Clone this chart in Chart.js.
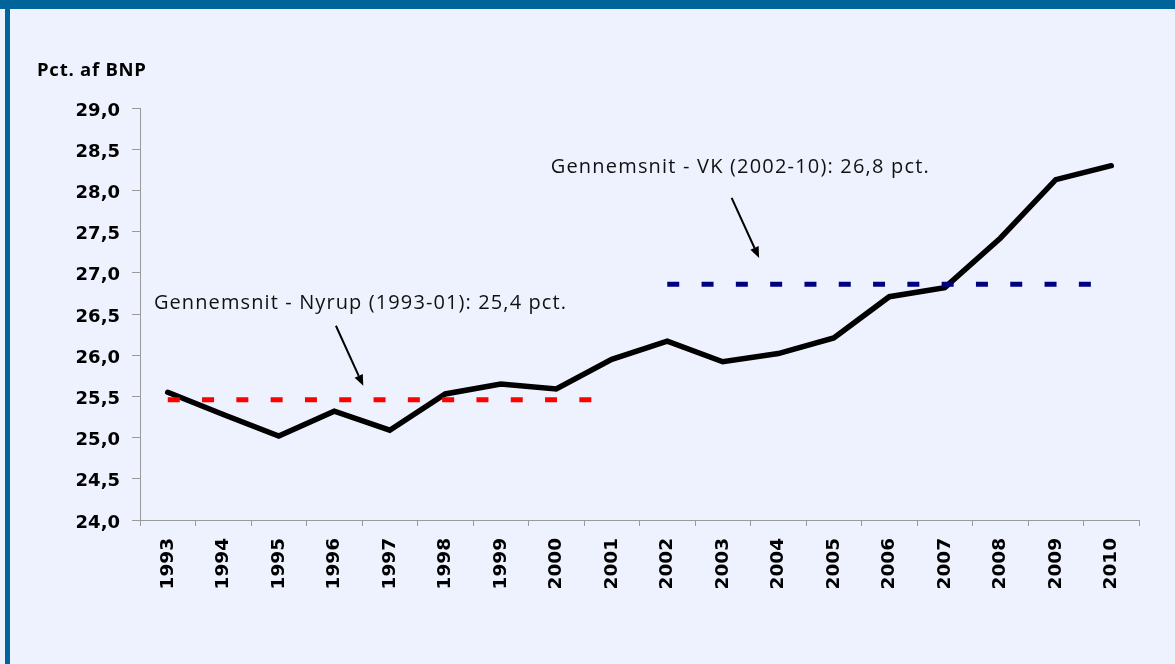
<!DOCTYPE html>
<html>
<head>
<meta charset="utf-8">
<script src="https://cdn.jsdelivr.net/npm/chart.js@4.4.1/dist/chart.umd.min.js"></script>
<style>
  html, body { margin: 0; padding: 0; background: #EEF2FE; }
  #wrap { position: relative; width: 1175px; height: 664px; overflow: hidden; background: #EEF2FE; }
  #topbar { position: absolute; left: 0; top: 0; width: 1175px; height: 9px; background: #00649A; }
  #leftbar { position: absolute; left: 5px; top: 0; width: 5px; height: 664px; background: #00649A; }
  canvas { position: absolute; left: 0; top: 0; }
</style>
</head>
<body>
<div id="wrap">
  <div id="topbar"></div>
  <div id="leftbar"></div>
  <canvas id="c" width="1175" height="664"></canvas>
</div>
<script>
// ---- Data ----
const years = ['1993','1994','1995','1996','1997','1998','1999','2000','2001',
               '2002','2003','2004','2005','2006','2007','2008','2009','2010'];
const taxShare = [25.55, 25.28, 25.02, 25.32, 25.09, 25.53, 25.65, 25.59, 25.95,
                  26.17, 25.92, 26.02, 26.21, 26.71, 26.82, 27.42, 28.13, 28.30];
const nyrupAverage = [25.46, 25.46, 25.46, 25.46, 25.46, 25.46, 25.46, 25.46, 25.46,
                      null, null, null, null, null, null, null, null, null];
const vkAverage = [null, null, null, null, null, null, null, null, null,
                   26.86, 26.86, 26.86, 26.86, 26.86, 26.86, 26.86, 26.86, 26.86];
const yTickValues = [24.0, 24.5, 25.0, 25.5, 26.0, 26.5, 27.0, 27.5, 28.0, 28.5, 29.0];
const yAxisTitle = 'Pct. af BNP';
const annotationTexts = ['Gennemsnit - Nyrup (1993-01): 25,4 pct.',
                         'Gennemsnit - VK (2002-10): 26,8 pct.'];

// ---- helpers ----
function drawFittedText(ctx, text, x, y, font, targetWidth, color) {
  ctx.save();
  ctx.font = font;
  ctx.fillStyle = color;
  ctx.textAlign = 'left';
  ctx.textBaseline = 'alphabetic';
  const w = ctx.measureText(text).width;
  if ('letterSpacing' in ctx && text.length > 1) {
    const sp = (targetWidth - w) / (text.length - 1);
    ctx.letterSpacing = sp.toFixed(2) + 'px';
    ctx.fillText(text, x, y);
  } else {
    ctx.translate(x, y);
    ctx.scale(targetWidth / w, 1);
    ctx.fillText(text, 0, 0);
  }
  ctx.restore();
}
function drawArrow(ctx, x1, y1, x2, y2) {
  const ang = Math.atan2(y2 - y1, x2 - x1);
  const headLen = 11, headHalf = 4.5;
  const bx = x2 - headLen * Math.cos(ang), by = y2 - headLen * Math.sin(ang);
  ctx.save();
  ctx.strokeStyle = '#000';
  ctx.fillStyle = '#000';
  ctx.lineWidth = 2;
  ctx.beginPath();
  ctx.moveTo(x1, y1);
  ctx.lineTo(bx, by);
  ctx.stroke();
  ctx.beginPath();
  ctx.moveTo(x2, y2);
  ctx.lineTo(bx + headHalf * Math.sin(ang), by - headHalf * Math.cos(ang));
  ctx.lineTo(bx - headHalf * Math.sin(ang), by + headHalf * Math.cos(ang));
  ctx.closePath();
  ctx.fill();
  ctx.restore();
}

const annotationPlugin = {
  id: 'annotations',
  afterDraw(chart) {
    const ctx = chart.ctx;
    const xs = chart.scales.x, ys = chart.scales.y;
    const px = v => xs.getPixelForValue(v);
    const py = v => ys.getPixelForValue(v);
    // y axis title
    drawFittedText(ctx, yAxisTitle, 37, 76, 'bold 18.5px "Open Sans"', 109, '#000');
    // annotation texts
    drawFittedText(ctx, annotationTexts[0], px(-0.25), py(26.56), '20px "Open Sans"', 412, '#111');
    drawFittedText(ctx, annotationTexts[1], px(6.9), py(28.21), '20px "Open Sans"', 378, '#111');
    // arrows
    drawArrow(ctx, px(3.03), py(26.357), px(3.523), py(25.628));
    drawArrow(ctx, px(10.16), py(27.909), px(10.655), py(27.18));
  }
};

Chart.defaults.font.family = 'DejaVu Sans';
Chart.defaults.color = '#000';

new Chart(document.getElementById('c'), {
  type: 'line',
  data: {
    labels: years,
    datasets: [
      {
        label: 'Gennemsnit - Nyrup',
        data: nyrupAverage,
        borderColor: '#FF0000',
        borderWidth: 5,
        borderDash: [12, 22.3],
        borderCapStyle: 'butt',
        pointRadius: 0,
        fill: false,
        spanGaps: false
      },
      {
        label: 'Gennemsnit - VK',
        data: vkAverage,
        borderColor: '#000080',
        borderWidth: 5,
        borderDash: [12, 22.3],
        borderCapStyle: 'butt',
        pointRadius: 0,
        fill: false,
        spanGaps: false
      },
      {
        label: 'Skattetryk',
        data: taxShare,
        borderColor: '#000000',
        borderWidth: 5.5,
        borderCapStyle: 'round',
        borderJoinStyle: 'miter',
        pointRadius: 0,
        tension: 0,
        fill: false
      }
    ]
  },
  options: {
    responsive: false,
    animation: false,
    devicePixelRatio: 1,
    layout: { padding: { left: 10, top: 108, right: 36, bottom: 10 } },
    plugins: {
      legend: { display: false },
      tooltip: { enabled: false },
      title: { display: false }
    },
    scales: {
      x: {
        type: 'category',
        offset: true,
        grid: {
          offset: true,
          drawOnChartArea: false,
          drawTicks: true,
          tickLength: 6,
          color: '#9a9a9a',
          lineWidth: 1
        },
        border: { display: true, color: '#9a9a9a', width: 1 },
        ticks: {
          autoSkip: false,
          minRotation: 90,
          maxRotation: 90,
          padding: 12,
          font: { family: 'DejaVu Sans', size: 18.5, weight: 'bold' },
          color: '#000'
        },
        afterFit(scale) { scale.height = 134; }
      },
      y: {
        min: 24,
        max: 29,
        afterBuildTicks(scale) { scale.ticks = yTickValues.map(v => ({ value: v })); },
        grid: {
          drawOnChartArea: false,
          drawTicks: true,
          tickLength: 8,
          color: '#9a9a9a',
          lineWidth: 1
        },
        border: { display: true, color: '#9a9a9a', width: 1 },
        ticks: {
          padding: 12,
          labelOffset: 3,
          font: { family: 'DejaVu Sans', size: 18, weight: 'bold' },
          color: '#000',
          callback: v => Number(v).toFixed(1).replace('.', ',')
        },
        afterFit(scale) { scale.width = 130; }
      }
    }
  },
  plugins: [annotationPlugin]
});
</script>
</body>
</html>
